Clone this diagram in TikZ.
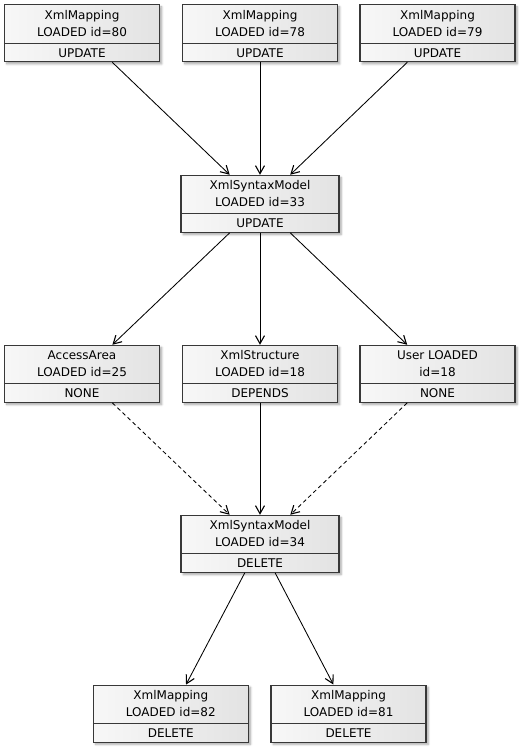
\documentclass[tikz,border=0pt]{standalone}
\usepackage{fontspec}
\setmainfont{DejaVu Sans}
\usetikzlibrary{arrows.meta,shadows.blur}
\tikzset{
  box/.style={rectangle, draw=black!78, line width=1.1pt, minimum width=155pt, minimum height=57pt,
    inner sep=0pt, left color=white!97!black, right color=black!11,
    blur shadow={shadow xshift=2.2pt, shadow yshift=-2.2pt, shadow blur steps=6, shadow opacity=35}},
  wide/.style={minimum width=158pt},
  txt/.style={font=\fontsize{12}{17}\selectfont, align=center, inner sep=0pt, text=black},
  divline/.style={draw=black!78, line width=1.1pt},
  conn/.style={draw=black, line width=0.85pt, -{Straight Barb[length=8pt,width=9pt,line width=1.1pt]}},
  dconn/.style={conn, dash pattern=on 4pt off 3pt},
}
\newcommand{\umlbox}[5][]{%
  \node[box,#1] (#2) at (#3) {};
  \draw[divline] ([yshift=19pt]#2.south west) -- ([yshift=19pt]#2.south east);
  \node[txt] (#2-t) at ([yshift=-19pt]#2.north) {#4};
  \node[txt] (#2-s) at ([yshift=9.5pt]#2.south) {#5};
}
\begin{document}
\begin{tikzpicture}[x=1pt,y=-1pt]
\useasboundingbox (0,0) rectangle (520,748);
\umlbox{m80}{82,33.2}{XmlMapping\\LOADED id=80}{UPDATE}
\umlbox{m78}{260,33.2}{XmlMapping\\LOADED id=78}{UPDATE}
\umlbox{m79}{437.5,33.2}{XmlMapping\\LOADED id=79}{UPDATE}
\umlbox[wide]{s33}{260,203.8}{XmlSyntaxModel\\LOADED id=33}{UPDATE}
\umlbox{aa}{82,373.8}{AccessArea\\LOADED id=25}{NONE}
\umlbox{xs}{260,373.8}{XmlStructure\\LOADED id=18}{DEPENDS}
\umlbox{us}{437.5,373.8}{User LOADED\\id=18}{NONE}
\umlbox[wide]{s34}{260,543.8}{XmlSyntaxModel\\LOADED id=34}{DELETE}
\umlbox{m82}{170.8,713.6}{XmlMapping\\LOADED id=82}{DELETE}
\umlbox{m81}{348.5,713.6}{XmlMapping\\LOADED id=81}{DELETE}
\draw[conn] (m80) -- (s33);
\draw[conn] (m78) -- (s33);
\draw[conn] (m79) -- (s33);
\draw[conn] (s33) -- (aa);
\draw[conn] (s33) -- (xs);
\draw[conn] (s33) -- (us);
\draw[dconn] (aa) -- (s34);
\draw[conn] (xs) -- (s34);
\draw[dconn] (us) -- (s34);
\draw[conn] (s34) -- (m82);
\draw[conn] (s34) -- (m81);
\end{tikzpicture}
\end{document}
